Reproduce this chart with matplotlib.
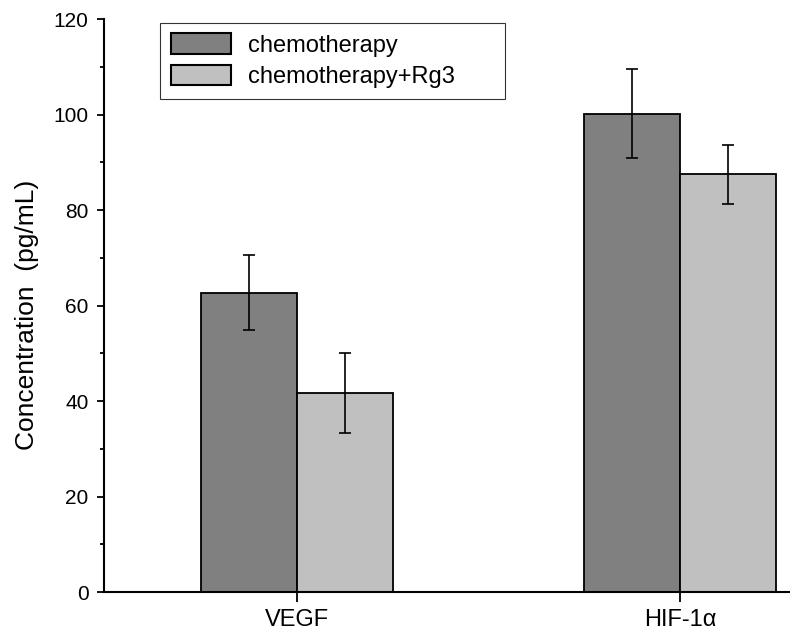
import matplotlib
matplotlib.use('Agg')
import matplotlib.pyplot as plt
import numpy as np
from matplotlib.ticker import MultipleLocator

plt.rcParams['font.family'] = ['Liberation Sans', 'DejaVu Sans']

categories = ['VEGF', 'HIF-1α']
chemo = [62.7, 100.2]
chemo_err = [7.9, 9.4]
rg3 = [41.6, 87.5]
rg3_err = [8.4, 6.2]

fig = plt.figure(figsize=(7.9, 6.34), dpi=100)
ax = fig.add_axes([0.1316, 0.0662, 0.8684, 0.9038])

x = np.arange(1, len(categories) + 1)
w = 0.25
err_kw = dict(elinewidth=1.2, capthick=1.2, ecolor='black')
ax.bar(x - w / 2, chemo, w, yerr=chemo_err, capsize=4, color='#808080',
       edgecolor='black', linewidth=1.3, error_kw=err_kw, label='chemotherapy')
ax.bar(x + w / 2, rg3, w, yerr=rg3_err, capsize=4, color='#c0c0c0',
       edgecolor='black', linewidth=1.3, error_kw=err_kw, label='chemotherapy+Rg3')

ax.set_xlim(0.496, 2.287)
ax.set_ylim(0, 120)
ax.set_xticks(x)
ax.set_xticklabels(categories, fontsize=17)
ax.yaxis.set_major_locator(MultipleLocator(20))
ax.yaxis.set_minor_locator(MultipleLocator(10))
ax.tick_params(axis='y', which='major', direction='out', length=5, width=1.3,
               labelsize=15, pad=6)
ax.tick_params(axis='y', which='minor', direction='out', length=3, width=1.3)
ax.tick_params(axis='x', which='major', direction='out', length=7, width=1.3, pad=5)
ax.spines['top'].set_visible(False)
ax.spines['right'].set_visible(False)
ax.spines['left'].set_linewidth(1.5)
ax.spines['bottom'].set_linewidth(1.5)
ax.set_ylabel('Concentration  (pg/mL)', fontsize=19)
ax.yaxis.set_label_coords(-0.095, 0.483)

leg = ax.legend(loc='upper left', bbox_to_anchor=(0.0816, 0.0, 0.503, 0.9935),
                mode='expand', fontsize=17,
                frameon=True, fancybox=False, edgecolor='black',
                handlelength=2.55, handleheight=0.95, labelspacing=0.35,
                handletextpad=0.72, borderpad=0.45, borderaxespad=0)
leg.get_frame().set_linewidth(0.8)
for p in leg.get_patches():
    p.set_linewidth(1.5)

plt.savefig('out.png', dpi=100)
